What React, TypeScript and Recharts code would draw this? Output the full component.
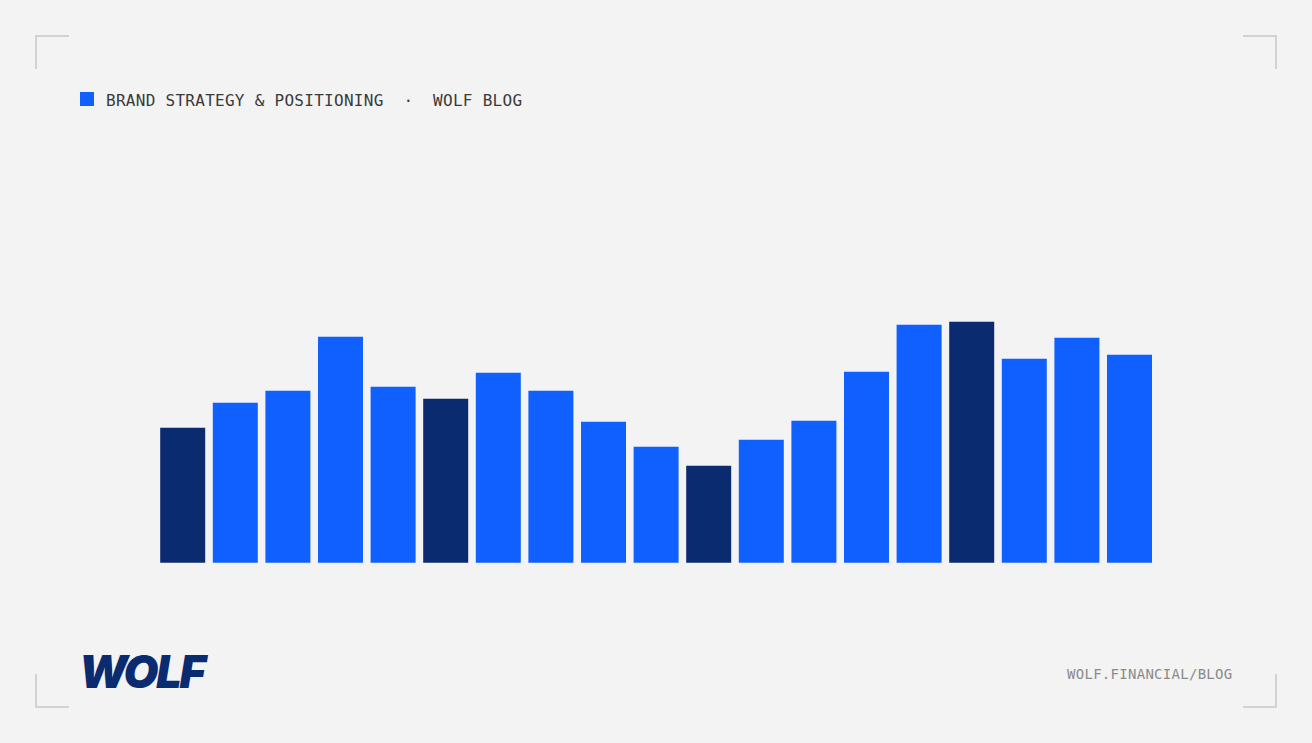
import { BarChart, Bar, XAxis, YAxis, Cell } from "recharts";

// periods shown on the chart (no axis labels are drawn in the reference)
const periods = [
  "P01", "P02", "P03", "P04", "P05", "P06", "P07", "P08", "P09", "P10",
  "P11", "P12", "P13", "P14", "P15", "P16", "P17", "P18", "P19",
];

// bar heights
const values = [
  135, 160, 172, 226, 176, 164, 190, 172, 141, 116,
  97, 123, 142, 191, 238, 241, 204, 225, 208,
];

// which bars are drawn in the dark accent colour
const highlighted = [0, 5, 10, 15];

const BG = "#f3f3f3";
const BLUE = "#0f60ff";
const NAVY = "#0a2b70";
const CORNER = "#d2d2d2";

const chartData = periods.map((p, i) => ({ period: p, value: values[i] }));

const Corner = ({ x, y, flipX, flipY }: { x: number; y: number; flipX?: boolean; flipY?: boolean }) => (
  <div
    style={{
      position: "absolute",
      left: x,
      top: y,
      width: 34,
      height: 34,
      borderLeft: flipX ? "none" : `2px solid ${CORNER}`,
      borderRight: flipX ? `2px solid ${CORNER}` : "none",
      borderTop: flipY ? "none" : `2px solid ${CORNER}`,
      borderBottom: flipY ? `2px solid ${CORNER}` : "none",
      boxSizing: "border-box",
    }}
  />
);

const App = () => {
  return (
    <div
      style={{
        position: "absolute",
        left: 0,
        top: 0,
        width: 1312,
        height: 743,
        background: BG,
        overflow: "hidden",
      }}
    >
      <Corner x={35} y={35} />
      <Corner x={1243} y={35} flipX />
      <Corner x={35} y={674} flipY />
      <Corner x={1243} y={674} flipX flipY />

      {/* header */}
      <div style={{ position: "absolute", left: 80, top: 92, width: 14, height: 14, background: BLUE }} />
      <div
        style={{
          position: "absolute",
          left: 106,
          top: 90,
          fontFamily: "'DejaVu Sans Mono', 'Liberation Mono', monospace",
          fontSize: 16,
          letterSpacing: 0.28,
          color: "#3a3a3a",
          whiteSpace: "pre",
          lineHeight: "22px",
        }}
      >
        {"BRAND STRATEGY & POSITIONING  ·  WOLF BLOG"}
      </div>

      <BarChart
        width={1312}
        height={743}
        data={chartData}
        margin={{ top: 262.7, right: 156.4, left: 156.2, bottom: 180.3 }}
        style={{ position: "absolute", left: 0, top: 0 }}
      >
        <XAxis dataKey="period" hide />
        <YAxis hide domain={[0, 300]} />
        <Bar dataKey="value" barSize={45} isAnimationActive={false}>
          {chartData.map((d, i) => (
            <Cell key={d.period} fill={highlighted.includes(i) ? NAVY : BLUE} />
          ))}
        </Bar>
      </BarChart>

      {/* footer */}
      <div
        style={{
          position: "absolute",
          left: 79,
          top: 645,
          fontFamily: "Inter, 'Liberation Sans', sans-serif",
          fontWeight: 900,
          fontStyle: "italic",
          fontSize: 45,
          letterSpacing: -2.2,
          color: NAVY,
          lineHeight: "54px",
        }}
      >
        WOLF
      </div>
      <div
        style={{
          position: "absolute",
          left: 1067,
          top: 665,
          fontFamily: "'DejaVu Sans Mono', 'Liberation Mono', monospace",
          fontSize: 14,
          letterSpacing: 0.28,
          color: "#8a8a8a",
          whiteSpace: "pre",
          lineHeight: "18px",
        }}
      >
        WOLF.FINANCIAL/BLOG
      </div>
    </div>
  );
};

export default App;
